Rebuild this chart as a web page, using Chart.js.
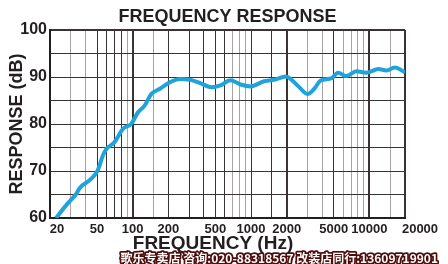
<!DOCTYPE html>
<html>
<head>
<meta charset="utf-8">
<script src="https://cdn.jsdelivr.net/npm/chart.js@4"></script>
<style>
  html, body { margin: 0; padding: 0; background: #fff; }
  #wrap { width: 448px; height: 264px; position: relative; }
</style>
</head>
<body>
<div id="wrap"><canvas id="freqChart"></canvas></div>
<script>
// measured response curve (Hz / dB)
const freqs = [22.5, 28, 33, 36, 44, 50.5, 56, 60, 70, 83, 97, 111, 126, 144, 170, 206, 250, 305, 372, 467,
  550, 670, 815, 990, 1290, 1560, 1970, 2470, 3000, 3420, 3900, 4770, 5430, 6390, 7770, 9450, 11900, 13960, 16400, 20000];
const levels = [60.0, 63.0, 65.0, 66.5, 68.2, 70.1, 73.3, 74.7, 76.1, 79.0, 80.0, 82.5, 83.9, 86.4, 87.5, 88.9, 89.6, 89.4, 88.7, 87.8,
  88.2, 89.3, 88.4, 88.0, 89.1, 89.4, 90.1, 88.2, 86.4, 87.5, 89.3, 89.7, 90.9, 90.2, 91.2, 90.9, 91.7, 91.4, 92.0, 91.0];

const xGridValues = [20, 30, 40, 50, 60, 70, 80, 90, 100, 150, 200, 300, 400, 500, 600, 700, 800, 900,
  1000, 1500, 2000, 3000, 4000, 5000, 6000, 7000, 8000, 9000, 10000, 15000, 20000];
const xLabels = [20, 50, 100, 200, 500, 1000, 2000, 5000, 10000, 20000];
const yLabels = [60, 70, 80, 90, 100];

const watermark = '歌乐专卖店 咨询:020-88318567 改装店同行:13609719901';

const ink = '#231f20';
const darkGrid = '#3b3233';
const grayGrid = '#a9a3a3';
const grayLines = [30, 40, 90, 150, 700, 800, 900, 3000, 4000, 6000, 7000, 8000, 9000, 15000];
const thickLines = [20, 100, 2000, 10000, 20000];

const font = 'Liberation Sans, Arial, sans-serif';

// chart title, x tick labels, axis title and the shop stamp at the bottom
const extraText = {
  id: 'extraText',
  afterDraw(chart) {
    const { ctx, chartArea } = chart;
    const x = chart.scales.x;
    ctx.save();
    ctx.fillStyle = ink;
    ctx.textAlign = 'center';
    ctx.textBaseline = 'middle';

    ctx.font = 'bold 18px ' + font;
    ctx.fillText('FREQUENCY RESPONSE', (chartArea.left + chartArea.right) / 2, 17);

    ctx.font = 'bold 13px ' + font;
    xLabels.forEach(v => {
      let px = x.getPixelForValue(v);
      if (v === 20) px += 7;
      if (v === 20000) px += 15;
      ctx.fillText(String(v), px, chartArea.bottom + 11);
    });
    ctx.font = 'bold 19px ' + font;
    ctx.fillText('FREQUENCY (Hz)', 213, 244);

    ctx.font = 'bold 12px "Noto Sans CJK SC", sans-serif';
    ctx.textAlign = 'right';
    ctx.lineJoin = 'round';
    ctx.lineWidth = 3.5;
    ctx.strokeStyle = '#4e0d0d';
    ctx.strokeText(watermark, 438, 258);
    ctx.fillStyle = '#fff';
    ctx.fillText(watermark, 438, 258);
    ctx.restore();
  }
};

new Chart(document.getElementById('freqChart'), {
  type: 'line',
  data: {
    datasets: [{
      label: 'Response',
      data: freqs.map((f, i) => ({ x: f, y: levels[i] })),
      borderColor: '#1ea3da',
      borderWidth: 4,
      pointRadius: 0,
      cubicInterpolationMode: 'monotone',
      fill: false
    }]
  },
  options: {
    responsive: true,
    maintainAspectRatio: false,
    animation: false,
    layout: { padding: { left: 0, right: 43, top: 30, bottom: 0 } },
    plugins: {
      legend: { display: false },
      tooltip: { enabled: false },
      title: { display: false }
    },
    scales: {
      x: {
        type: 'logarithmic',
        min: 20,
        max: 20000,
        afterBuildTicks: s => { s.ticks = xGridValues.map(v => ({ value: v })); },
        afterFit: s => { s.height = 46; },
        ticks: { display: false },
        grid: {
          drawTicks: false,
          color: c => grayLines.includes(c.tick.value) ? grayGrid : darkGrid,
          lineWidth: c => thickLines.includes(c.tick.value) ? 2 : 1
        },
        border: { color: ink, width: 2 }
      },
      y: {
        min: 60,
        max: 100,
        afterBuildTicks: s => {
          s.ticks = [];
          for (let v = 60; v <= 100; v += 5) s.ticks.push({ value: v });
        },
        afterFit: s => { s.width = 50; },
        ticks: {
          padding: 3,
          color: ink,
          font: { family: font, size: 16, weight: 'bold' },
          callback: v => yLabels.includes(v) ? String(v) : ''
        },
        grid: {
          drawTicks: false,
          color: darkGrid,
          lineWidth: c => c.tick.value === 100 ? 2 : 1
        },
        border: { color: ink, width: 2 },
        title: {
          display: true,
          text: 'RESPONSE (dB)',
          color: ink,
          font: { family: font, size: 18, weight: 'bold' },
          padding: { top: 6, bottom: 0 }
        }
      }
    }
  },
  plugins: [extraText]
});
</script>
</body>
</html>
